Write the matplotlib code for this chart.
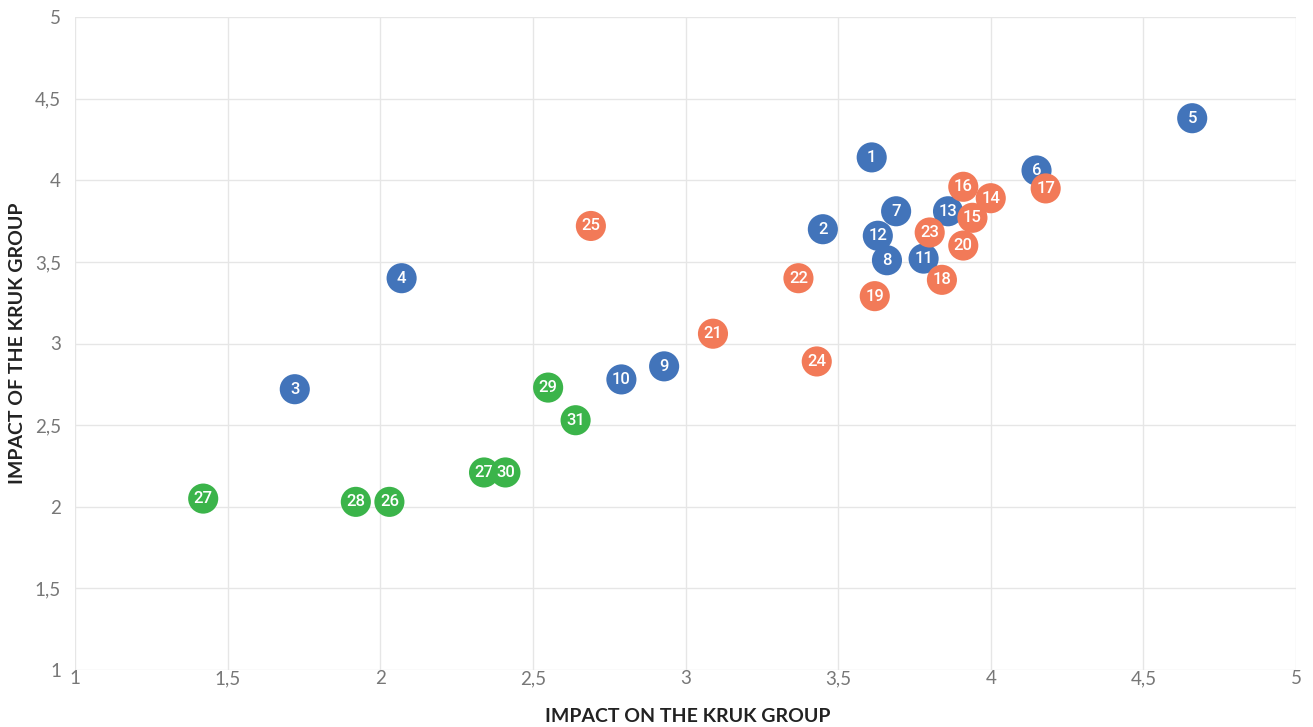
import matplotlib.pyplot as plt

# data
blue_labels = ['1', '2', '3', '4', '5', '6', '7', '8', '9', '10', '11', '12', '13']
blue_x = [3.61, 3.45, 1.72, 2.07, 4.66, 4.15, 3.69, 3.66, 2.93, 2.79, 3.78, 3.63, 3.86]
blue_y = [4.14, 3.70, 2.72, 3.40, 4.38, 4.06, 3.81, 3.51, 2.86, 2.78, 3.52, 3.66, 3.81]

orange_labels = ['14', '15', '16', '17', '18', '19', '20', '21', '22', '23', '24', '25']
orange_x = [4.00, 3.94, 3.91, 4.18, 3.84, 3.62, 3.91, 3.09, 3.37, 3.80, 3.43, 2.69]
orange_y = [3.89, 3.77, 3.96, 3.95, 3.39, 3.29, 3.60, 3.06, 3.40, 3.68, 2.89, 3.72]

green_labels = ['27', '28', '26', '27', '30', '29', '31']
green_x = [1.42, 1.92, 2.03, 2.34, 2.41, 2.55, 2.64]
green_y = [2.05, 2.03, 2.03, 2.21, 2.21, 2.73, 2.53]

ticks = [1, 1.5, 2, 2.5, 3, 3.5, 4, 4.5, 5]
tick_labels = ['1', '1,5', '2', '2,5', '3', '3,5', '4', '4,5', '5']

fig = plt.figure(figsize=(13.13, 7.27), dpi=100)
ax = fig.add_axes([75 / 1313, 57 / 727, 1221 / 1313, 653 / 727])

groups = [
    (blue_x, blue_y, blue_labels, '#4274ba'),
    (orange_x, orange_y, orange_labels, '#f27a58'),
    (green_x, green_y, green_labels, '#3bb44a'),
]
z = 3
for xs, ys, labels, col in groups:
    for x, y, lab in zip(xs, ys, labels):
        ax.scatter(x, y, s=470, color=col, edgecolors='none', zorder=z)
        ax.text(x, y, lab, color='white', ha='center', va='center', fontsize=12,
                family='Roboto', fontweight='medium', zorder=z + 0.5)
        z += 1

ax.set_xlim(1, 5)
ax.set_ylim(1, 5)
ax.set_xticks(ticks)
ax.set_xticklabels(tick_labels)
ax.set_yticks(ticks)
ax.set_yticklabels(tick_labels)
ax.grid(True, color='#e6e6e6', linewidth=1)
ax.set_axisbelow(True)
for s in ax.spines.values():
    s.set_visible(False)
ax.tick_params(axis='x', length=0, labelsize=13.5, labelcolor='#777777', pad=0)
ax.tick_params(axis='y', length=0, labelsize=13.5, labelcolor='#777777', pad=10)
for t in ax.get_xticklabels() + ax.get_yticklabels():
    t.set_family('Lato')

fig.text(688 / 1313, 1 - 716 / 727, 'IMPACT ON THE KRUK GROUP', fontsize=14,
         fontweight='bold', family='Lato', color='#222222', ha='center', va='center')
fig.text(18 / 1313, 1 - 343 / 727, 'IMPACT OF THE KRUK GROUP', fontsize=14,
         fontweight='bold', family='Lato', color='#222222', ha='center', va='center',
         rotation=90)

fig.savefig('out.png', dpi=100)
